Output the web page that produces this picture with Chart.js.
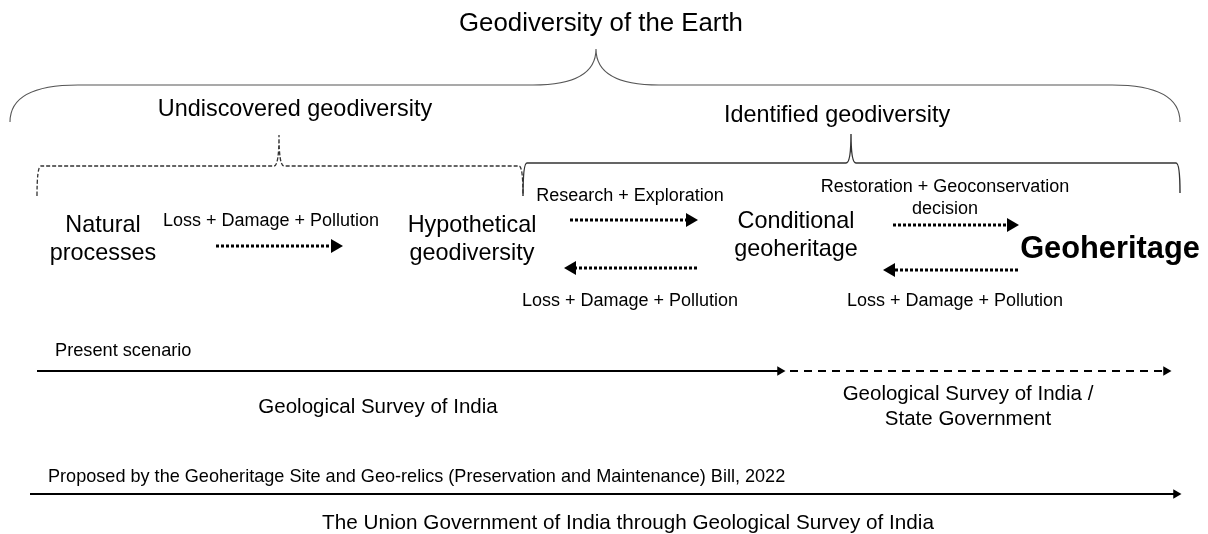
<!DOCTYPE html>
<html>
<head>
<meta charset="utf-8">
<script src="https://cdn.jsdelivr.net/npm/chart.js@4.4.1/dist/chart.umd.min.js"></script>
<style>
  html, body { margin: 0; padding: 0; background: #fff; }
  #wrap { width: 1208px; height: 534px; }
</style>
</head>
<body>
<div id="wrap"><canvas id="diagram" width="1208" height="534"></canvas></div>
<script>
// texts of the diagram
const titleText = 'Geodiversity of the Earth';
const groupLabels = ['Undiscovered geodiversity', 'Identified geodiversity'];
const groupX = [295, 837];
const groupY = [116, 122];

const stageLabels = [['Natural', 'processes'], ['Hypothetical', 'geodiversity'], ['Conditional', 'geoheritage'], ['Geoheritage']];
const stageX = [103, 472, 796, 1110];
const stageY = [232, 232, 228, 258];

// flows between stages (dotted arrows)
const flowLabels = [['Loss + Damage + Pollution'], ['Research + Exploration'], ['Loss + Damage + Pollution'], ['Restoration + Geoconservation', 'decision'], ['Loss + Damage + Pollution']];
const flowLabelX = [271, 630, 630, 945, 955];
const flowLabelY = [226, 201, 306, 192, 306];
const flowFrom = [216, 570, 697, 893, 1018];
const flowTo = [335, 690, 572, 1011, 891];
const flowY = [246, 220, 268, 225, 270];

// responsibility timelines
const scenarioLabels = ['Present scenario', 'Proposed by the Geoheritage Site and Geo-relics (Preservation and Maintenance) Bill, 2022'];
const scenarioY = [356, 482];
const authorityLabels = [['Geological Survey of India'], ['Geological Survey of India /', 'State Government'], ['The Union Government of India through Geological Survey of India']];
const authorityX = [378, 968, 628];
const authorityY = [413, 400, 529];

// braces: [left x, right x, bar y, left end y, right end y, tip x, tip y]
const braces = [
    [10, 1180, 85, 122, 122, 596, 49],
    [37, 523, 166, 196, 196, 279, 135],
    [523, 1180, 163, 196, 193, 851, 134]
];

const FONT = '"Liberation Sans", Arial, sans-serif';

function flowDataset(i) {
    const dir = flowTo[i] > flowFrom[i] ? 90 : 270;
    return {
        data: [{ x: flowFrom[i], y: flowY[i] }, { x: flowTo[i], y: flowY[i] }],
        showLine: true,
        borderColor: '#000',
        borderWidth: 3,
        borderDash: [3, 2],
        pointStyle: 'triangle',
        pointRadius: [0, 8],
        pointRotation: dir,
        pointBackgroundColor: '#000',
        pointBorderWidth: 0
    };
}

function timeline(x1, x2, y, dash, head) {
    return {
        data: [{ x: x1, y: y }, { x: x2, y: y }],
        showLine: true,
        borderColor: '#000',
        borderWidth: 2.2,
        borderDash: dash,
        pointStyle: 'triangle',
        pointRadius: [0, head],
        pointRotation: 90,
        pointBackgroundColor: '#000',
        pointBorderWidth: 0
    };
}

const datasets = flowLabels.map((l, i) => flowDataset(i));
datasets.push(timeline(37, 780, 371, [], 5.5));
datasets.push(timeline(790, 1166, 371, [8, 6], 5.5));
datasets.push(timeline(30, 1176, 494, [], 5.5));

const diagramText = {
    id: 'diagramText',
    afterDatasetsDraw(chart) {
        const ctx = chart.ctx;
        const sx = chart.scales.x, sy = chart.scales.y;
        const px = v => sx.getPixelForValue(v);
        const py = v => sy.getPixelForValue(v);

        // braces
        braces.forEach((b, i) => {
            const [x1, x2, yb, ye1, ye2, tx, ty] = b;
            const r = i === 0 ? 68 : 4;
            const rt = i === 0 ? 63 : 5;
            ctx.save();
            ctx.beginPath();
            ctx.moveTo(px(x1), py(ye1));
            ctx.quadraticCurveTo(px(x1), py(yb), px(x1 + r), py(yb));
            ctx.lineTo(px(tx - rt), py(yb));
            ctx.quadraticCurveTo(px(tx), py(yb), px(tx), py(ty));
            ctx.quadraticCurveTo(px(tx), py(yb), px(tx + rt), py(yb));
            ctx.lineTo(px(x2 - r), py(yb));
            ctx.quadraticCurveTo(px(x2), py(yb), px(x2), py(ye2));
            if (i === 1) {
                ctx.setLineDash([4, 2]);
                ctx.strokeStyle = '#333';
                ctx.lineWidth = 1.3;
            } else if (i === 0) {
                ctx.strokeStyle = '#555';
                ctx.lineWidth = 1.1;
            } else {
                ctx.strokeStyle = '#333';
                ctx.lineWidth = 1.4;
            }
            ctx.stroke();
            ctx.restore();
        });

        ctx.save();
        ctx.fillStyle = '#000';
        ctx.textAlign = 'center';
        ctx.textBaseline = 'alphabetic';

        ctx.font = '25.8px ' + FONT;
        ctx.fillText(titleText, px(601), py(31));

        ctx.font = '23.4px ' + FONT;
        groupLabels.forEach((t, i) => ctx.fillText(t, px(groupX[i]), py(groupY[i])));

        stageLabels.forEach((lines, i) => {
            ctx.font = (i === 3 ? 'bold 30.8px ' : '23.4px ') + FONT;
            lines.forEach((t, j) => ctx.fillText(t, px(stageX[i]), py(stageY[i] + j * 28)));
        });

        ctx.font = '18px ' + FONT;
        flowLabels.forEach((lines, i) => {
            lines.forEach((t, j) => ctx.fillText(t, px(flowLabelX[i]), py(flowLabelY[i] + j * 22)));
        });

        ctx.textAlign = 'left';
        ctx.font = '18.2px ' + FONT;
        ctx.fillText(scenarioLabels[0], px(55), py(scenarioY[0]));
        ctx.font = '18.1px ' + FONT;
        ctx.fillText(scenarioLabels[1], px(48), py(scenarioY[1]));

        ctx.textAlign = 'center';
        authorityLabels.forEach((lines, i) => {
            ctx.font = (i === 2 ? '20.7px ' : '20.5px ') + FONT;
            lines.forEach((t, j) => ctx.fillText(t, px(authorityX[i]), py(authorityY[i] + j * 25)));
        });
        ctx.restore();
    }
};

new Chart(document.getElementById('diagram'), {
    type: 'scatter',
    data: { datasets: datasets },
    options: {
        responsive: false,
        animation: false,
        events: [],
        layout: { padding: 0, autoPadding: false },
        scales: {
            x: { type: 'linear', display: false, min: 0, max: 1208 },
            y: { type: 'linear', display: false, min: 0, max: 534, reverse: true }
        },
        plugins: {
            legend: { display: false },
            tooltip: { enabled: false }
        }
    },
    plugins: [diagramText]
});
</script>
</body>
</html>
